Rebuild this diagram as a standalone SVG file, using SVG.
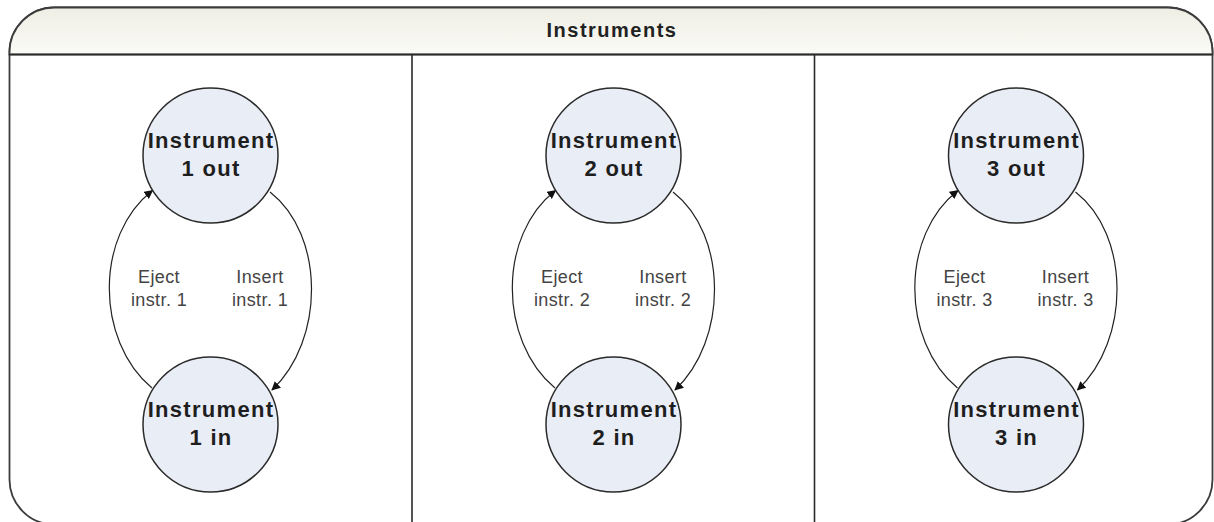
<svg xmlns="http://www.w3.org/2000/svg" width="1214" height="522" viewBox="0 0 1214 522">
  <defs>
    <linearGradient id="hdr" x1="0" y1="0" x2="0" y2="1">
      <stop offset="0" stop-color="#eeeee4"/>
      <stop offset="1" stop-color="#fbfbf6"/>
    </linearGradient>
    <marker id="arrow" viewBox="0 0 10 10" refX="9" refY="5" markerWidth="9" markerHeight="9" markerUnits="userSpaceOnUse" orient="auto">
      <path d="M0,0 L10,5 L0,10 z" fill="#111"/>
    </marker>
  </defs>
  <style>
    .frame { fill: #ffffff; stroke: #3c3c3c; stroke-width: 1.8; }
    .divider { stroke: #2a2a2a; stroke-width: 1.6; fill: none; }
    .title { font-family: "Liberation Sans", Arial, sans-serif; font-weight: bold; font-size: 20px; fill: #222; letter-spacing: 1.5px; }
    .state circle { fill: #e9edf6; stroke: #2a2a2a; stroke-width: 1.5; }
    .state text { font-family: "Liberation Sans", Arial, sans-serif; font-weight: bold; font-size: 22px; fill: #1e1e1e; text-anchor: middle; letter-spacing: 1.3px; }
    .edge { fill: none; stroke: #222; stroke-width: 1.2; marker-end: url(#arrow); }
    .lbl { font-family: "Liberation Sans", Arial, sans-serif; font-size: 18px; fill: #444; text-anchor: middle; letter-spacing: 0.4px; }
  </style>

  <!-- swimlane container -->
  <g id="container">
    <rect class="frame" x="9.5" y="7.5" width="1203" height="517" rx="45" ry="45"/>
    <path d="M9.5,54.5 L9.5,52.5 A45,45 0 0 1 54.5,7.5 L1167.5,7.5 A45,45 0 0 1 1212.5,52.5 L1212.5,54.5 Z" fill="url(#hdr)" stroke="#3c3c3c" stroke-width="1.8"/>
    <line class="divider" x1="9.5" y1="54.5" x2="1212.5" y2="54.5" stroke-width="2"/>
    <text class="title" x="612" y="37" text-anchor="middle">Instruments</text>
    <line class="divider" x1="412" y1="55" x2="412" y2="522"/>
    <line class="divider" x1="814.5" y1="55" x2="814.5" y2="522"/>
  </g>

  <!-- transitions -->
  <g id="connectors">
    <path class="edge" d="M152,388 C95,340 95,235 152.5,190.5"/>
    <path class="edge" d="M270,192 C325,235 325,340 272,390"/>
    <path class="edge" d="M555,388 C498,340 498,235 555.5,190.5"/>
    <path class="edge" d="M673,192 C728,235 728,340 675,390"/>
    <path class="edge" d="M957.5,388 C900.5,340 900.5,235 958,190.5"/>
    <path class="edge" d="M1075.5,192 C1130.5,235 1130.5,340 1077.5,390"/>
  </g>

  <!-- transition labels -->
  <g id="labels">
    <text class="lbl" x="159" y="283">Eject</text>
    <text class="lbl" x="159" y="306">instr. 1</text>
    <text class="lbl" x="260" y="283">Insert</text>
    <text class="lbl" x="260" y="306">instr. 1</text>
    <text class="lbl" x="562" y="283">Eject</text>
    <text class="lbl" x="562" y="306">instr. 2</text>
    <text class="lbl" x="663" y="283">Insert</text>
    <text class="lbl" x="663" y="306">instr. 2</text>
    <text class="lbl" x="964.5" y="283">Eject</text>
    <text class="lbl" x="964.5" y="306">instr. 3</text>
    <text class="lbl" x="1065.5" y="283">Insert</text>
    <text class="lbl" x="1065.5" y="306">instr. 3</text>
  </g>

  <!-- states -->
  <g id="instrument1-out" class="state">
    <circle cx="210.5" cy="155.5" r="67.5"/>
    <text x="211" y="148">Instrument</text>
    <text x="211" y="176">1 out</text>
  </g>
  <g id="instrument1-in" class="state">
    <circle cx="210.5" cy="424.5" r="67.5"/>
    <text x="211" y="417">Instrument</text>
    <text x="211" y="445">1 in</text>
  </g>
  <g id="instrument2-out" class="state">
    <circle cx="613.5" cy="155.5" r="67.5"/>
    <text x="614" y="148">Instrument</text>
    <text x="614" y="176">2 out</text>
  </g>
  <g id="instrument2-in" class="state">
    <circle cx="613.5" cy="424.5" r="67.5"/>
    <text x="614" y="417">Instrument</text>
    <text x="614" y="445">2 in</text>
  </g>
  <g id="instrument3-out" class="state">
    <circle cx="1016" cy="155.5" r="67.5"/>
    <text x="1016.5" y="148">Instrument</text>
    <text x="1016.5" y="176">3 out</text>
  </g>
  <g id="instrument3-in" class="state">
    <circle cx="1016" cy="424.5" r="67.5"/>
    <text x="1016.5" y="417">Instrument</text>
    <text x="1016.5" y="445">3 in</text>
  </g>
</svg>
